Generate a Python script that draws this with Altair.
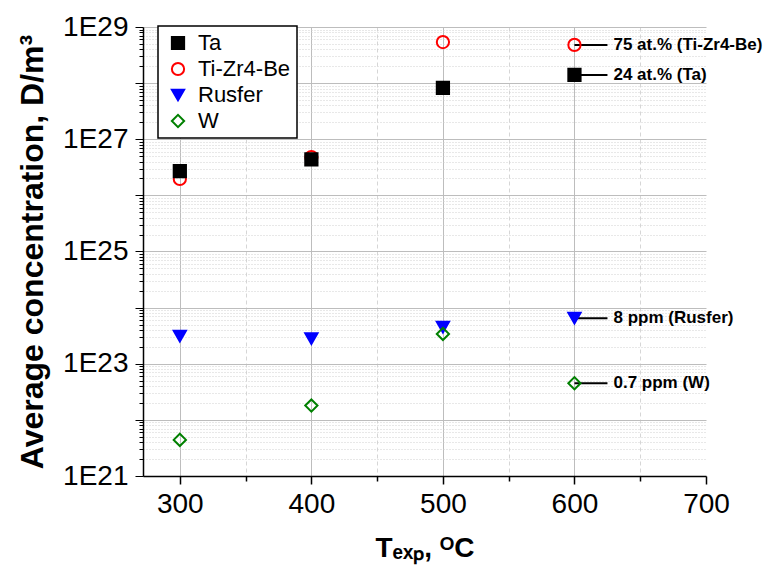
import altair as alt
import pandas as pd

# ---- data ----
temps = [300, 400, 500, 600]
series_names = ["Ta", "Ti-Zr4-Be", "Rusfer", "W"]
ta_vals = [2.7e26, 4.4e26, 8.2e27, 1.4e28]
tizrbe_vals = [1.96e26, 4.8e26, 5.4e28, 4.8e28]
rusfer_vals = [3.1e23, 2.8e23, 4.5e23, 6.5e23]
w_vals = [4.4e21, 1.8e22, 3.4e23, 4.5e22]
ann_series = ["Ti-Zr4-Be", "Ta", "Rusfer", "W"]
ann_labels = ["75 at.% (Ti-Zr4-Be)", "24 at.% (Ta)", "8 ppm (Rusfer)", "0.7 ppm (W)"]

x_tick_values = [300, 350, 400, 450, 500, 550, 600, 650, 700]
y_tick_values = [float(m) * 10.0 ** e for e in range(21, 29) for m in range(1, 10)] + [1e29]

FONT = "Liberation Sans"

values_by_series = {"Ta": ta_vals, "Ti-Zr4-Be": tizrbe_vals, "Rusfer": rusfer_vals, "W": w_vals}
draw_order = ["Ti-Zr4-Be", "Ta", "Rusfer", "W"]
rows = []
for s in draw_order:
    for t, v in zip(temps, values_by_series[s]):
        rows.append({"series": s, "T": t, "value": v})
df = pd.DataFrame(rows)

ann_rows = []
for s, lab in zip(ann_series, ann_labels):
    ann_rows.append({"series": s, "T": temps[-1], "value": values_by_series[s][-1], "label": lab})
ann = pd.DataFrame(ann_rows)

is_decade = "abs(log(datum.value)/LN10 - round(log(datum.value)/LN10)) < 0.01"
y_label_expr = (
    "(" + is_decade + " && round(log(datum.value)/LN10) % 2 == 1) ? "
    "'1E' + round(log(datum.value)/LN10) : ''"
)

x_scale = alt.Scale(domain=[272, 700], nice=False, zero=False)
y_scale = alt.Scale(type="log", domain=[1e21, 1e29], nice=False)

x_axis = alt.Axis(
    title="Tₑₓₚ, ᴼC",
    values=x_tick_values,
    format="d",
    labelExpr="datum.value % 100 == 0 ? datum.label : ''",
    labelOverlap=False,
    labelFlush=False,
    labelFont=FONT,
    labelFontSize=28,
    labelColor="black",
    labelPadding=6,
    tickColor="black",
    tickSize={"condition": {"test": "datum.value % 100 == 0", "value": 8}, "value": 5},
    tickWidth=1.5,
    domainColor="black",
    domainWidth=1.5,
    grid=True,
    gridColor={"condition": {"test": "datum.value % 100 == 0", "value": "#bdbdbd"}, "value": "#d6d6d6"},
    gridDash={"condition": {"test": "datum.value % 100 == 0", "value": []}, "value": [4, 3]},
    gridOpacity={"condition": {"test": "datum.value == 700", "value": 0}, "value": 1},
    titleFont=FONT,
    titleFontSize=28,
    titleFontWeight="bold",
    titleColor="black",
    titlePadding=16,
)

y_axis = alt.Axis(
    title="Average concentration, D/m³",
    values=y_tick_values,
    labelExpr=y_label_expr,
    labelOverlap=False,
    labelFlush=False,
    labelFont=FONT,
    labelFontSize=28,
    labelColor="black",
    labelPadding=7,
    tickColor="black",
    tickSize={"condition": {"test": is_decade, "value": 8}, "value": 4},
    tickWidth=1,
    domainColor="black",
    domainWidth=1.5,
    grid=True,
    gridColor={"condition": {"test": is_decade, "value": "#bdbdbd"}, "value": "#d0d0d0"},
    gridDash={"condition": {"test": is_decade, "value": []}, "value": [1, 2]},
    titleFont=FONT,
    titleFontSize=32,
    titleFontWeight="bold",
    titleColor="black",
    titlePadding=13,
)

base_x = alt.X("T:Q", scale=x_scale, axis=x_axis)
base_y = alt.Y("value:Q", scale=y_scale, axis=y_axis)

leg = alt.Legend(title=None, orient="none", legendX=15, legendY=-1)

points = alt.Chart(df).mark_point(strokeWidth=2, opacity=1).encode(
    x=base_x,
    y=base_y,
    shape=alt.Shape(
        "series:N",
        scale=alt.Scale(domain=series_names, range=["square", "circle", "triangle-down", "diamond"]),
        legend=leg,
    ),
    stroke=alt.Stroke(
        "series:N",
        scale=alt.Scale(domain=series_names, range=["black", "#ff0000", "#0000ff", "#008000"]),
        legend=leg,
    ),
    fill=alt.Fill(
        "series:N",
        scale=alt.Scale(domain=series_names, range=["black", "transparent", "#0000ff", "transparent"]),
        legend=leg,
    ),
    size=alt.Size(
        "series:N",
        scale=alt.Scale(domain=series_names, range=[150, 150, 170, 220]),
        legend=leg,
    ),
)

leaders = alt.Chart(ann).mark_rule(color="black", strokeWidth=2, x2Offset=33).encode(
    x=alt.X("T:Q", scale=x_scale),
    x2="T:Q",
    y=alt.Y("value:Q", scale=y_scale),
)

labels = alt.Chart(ann).mark_text(
    align="left", baseline="middle", dx=39, font=FONT, fontSize=17, fontWeight="bold", color="black"
).encode(
    x=alt.X("T:Q", scale=x_scale),
    y=alt.Y("value:Q", scale=y_scale),
    text="label:N",
)

chart = (
    alt.layer(leaders, points, labels)
    .properties(
        width=563,
        height=449,
        autosize=alt.AutoSizeParams(type="none"),
        padding={"left": 135, "top": 19, "right": 58, "bottom": 90},
    )
    .configure_view(stroke=None)
    .configure_legend(
        strokeColor="black",
        strokeWidth=1.5,
        fillColor="white",
        padding=6,
        labelFont=FONT,
        labelFontSize=22,
        labelColor="black",
        labelOffset=9,
        symbolStrokeWidth=2,
        symbolOffset=3,
        rowPadding=4,
        labelLimit=300,
    )
)

chart.save("out.html", embed_options={"renderer": "svg", "actions": False})
